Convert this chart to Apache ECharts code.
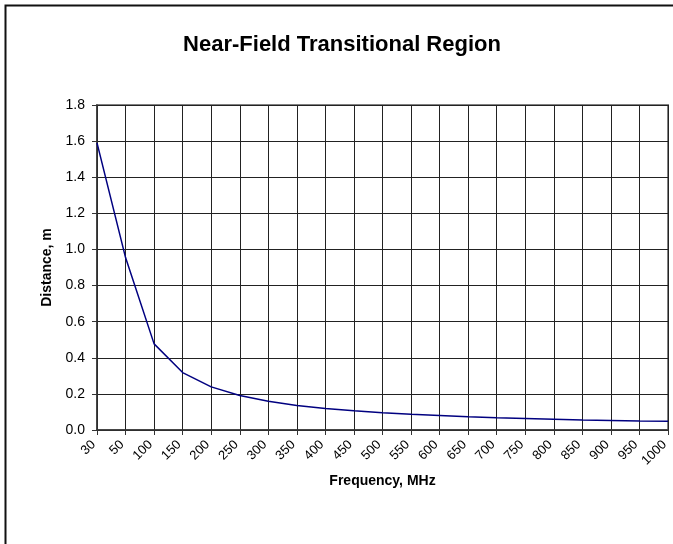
<!DOCTYPE html>
<html>
<head>
<meta charset="utf-8">
<script src="https://cdn.jsdelivr.net/npm/echarts@6/dist/echarts.min.js"></script>
<style>
html,body{margin:0;padding:0;background:#fff;}
#c{width:673px;height:544px;}
</style>
</head>
<body>
<div id="c"></div>
<script>
var categories = ['30','50','100','150','200','250','300','350','400','450','500','550','600','650','700','750','800','850','900','950','1000'];
var distance = [1.59,0.955,0.477,0.318,0.239,0.191,0.159,0.136,0.119,0.106,0.095,0.087,0.080,0.073,0.068,0.064,0.060,0.056,0.053,0.050,0.048];
var yTicks = {min:0, max:1.8, interval:0.2};

var chart = echarts.init(document.getElementById('c'), null, {renderer:'canvas'});
var font = 'Liberation Sans, Arial, sans-serif';
chart.setOption({
  backgroundColor:'#fff',
  animation:false,
  title:{
    text:'Near-Field Transitional Region',
    left:337, top:29, textAlign:'center',
    textStyle:{fontFamily:font, fontSize:22, fontWeight:'bold', color:'#000'}
  },
  graphic:[{
    type:'rect', shape:{x:5.5, y:5.5, width:700, height:600},
    style:{fill:null, stroke:'#111', lineWidth:2}, z:-1
  }],
  grid:{left:97, right:5, top:105, bottom:114, show:true, borderColor:'#808080', borderWidth:2, backgroundColor:'transparent'},
  xAxis:{
    type:'category', data:categories, boundaryGap:false,
    name:'Frequency, MHz', nameLocation:'middle', nameGap:42,
    nameTextStyle:{fontFamily:font, fontSize:14, fontWeight:'bold', color:'#000'},
    axisLine:{lineStyle:{color:'#333', width:1.5}},
    axisTick:{show:true, length:5, inside:false, lineStyle:{color:'#333'}},
    axisLabel:{rotate:45, fontFamily:font, fontSize:13, color:'#000', margin:9, padding:[0,5,0,0], interval:0},
    splitLine:{show:true, lineStyle:{color:'#222', width:1}}
  },
  yAxis:{
    type:'value', min:yTicks.min, max:yTicks.max, interval:yTicks.interval,
    name:'Distance, m', nameLocation:'middle', nameGap:43, nameRotate:90,
    nameTextStyle:{fontFamily:font, fontSize:14, fontWeight:'bold', color:'#000'},
    axisLine:{show:true, lineStyle:{color:'#333', width:1.5}},
    axisTick:{show:true, length:5, lineStyle:{color:'#333'}},
    axisLabel:{fontFamily:font, fontSize:14, color:'#000', margin:12,
      formatter:function(v){return v.toFixed(1);}},
    splitLine:{show:true, lineStyle:{color:'#222', width:1}}
  },
  series:[{
    type:'line', data:distance, symbol:'none',
    lineStyle:{color:'#000080', width:1.5}
  }]
});
</script>
</body>
</html>
